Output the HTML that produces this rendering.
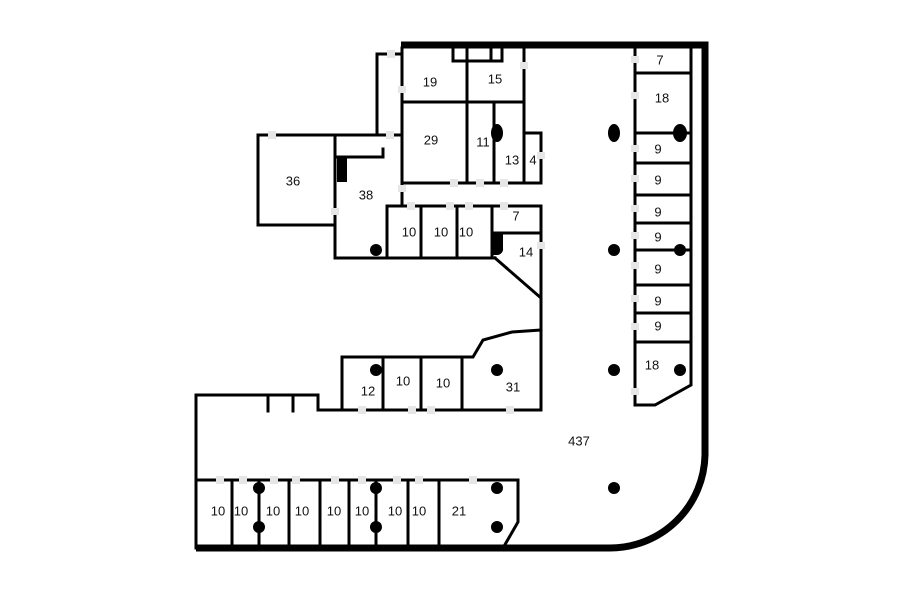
<!DOCTYPE html>
<html><head><meta charset="utf-8"><style>html,body{margin:0;background:#fff}svg{display:block}text{font-family:"Liberation Sans",sans-serif;font-size:13px;fill:#111;text-anchor:middle;dominant-baseline:middle}</style></head>
<body>
<svg width="900" height="604" viewBox="0 0 900 604" xmlns="http://www.w3.org/2000/svg">
<g fill="none" stroke="#000" stroke-width="3" stroke-linecap="square">
<path d="M401 45 H705 V455 A95 95 0 0 1 610 548 H196" stroke-width="7" stroke-linecap="butt"/>
<path d="M635 48 V405 H655 L691 385 V48"/>
<path d="M635 73H691 M635 133H691 M635 163H691 M635 195H691 M635 223H691 M635 250H691 M635 285H691 M635 313H691 M635 342H691"/>
<path d="M402 48 V205"/>
<path d="M402 54 H377 V135 H258 V225 H335 M335 135 V258 H495 M377 135 H402"/>
<path d="M338 157 H383 V149"/>
<path d="M402 102 H524 M467 48 V183 M494 102 V183 M524 48 V183 M524 133 H541 V183 H402"/>
<path d="M453 48 V61 H502 V48 M491 48 V61"/>
<path d="M387 258 V206 H541 V298 L495 258 M421 206 V258 M457 206 V258 M492 206 V258 M492 233 H541"/>
<path d="M541 298 V410 H318 V395 H196 V548 M268 395 V411 M293 395 V411"/>
<path d="M342 410 V357 H473 L483 340 L512 332 L541 330 M383 357 V410 M421 357 V410 M462 357 V410"/>
<path d="M196 480 H518 V522 L503 548 M232 480 V548 M259 480 V548 M289 480 V548 M320 480 V548 M349 480 V548 M376 480 V548 M408 480 V548 M439 480 V548"/>
</g>
<g fill="#e6e6e6">
<rect x="631" y="56" width="8" height="7"/><rect x="631" y="92" width="8" height="7"/><rect x="631" y="145" width="8" height="7"/><rect x="631" y="175" width="8" height="7"/><rect x="631" y="205" width="8" height="7"/><rect x="631" y="232" width="8" height="7"/><rect x="631" y="262" width="8" height="7"/><rect x="631" y="295" width="8" height="7"/><rect x="631" y="323" width="8" height="7"/><rect x="631" y="388" width="8" height="7"/>
<rect x="398" y="86" width="8" height="7"/><rect x="398" y="185" width="8" height="7"/><rect x="520" y="62" width="8" height="7"/><rect x="537" y="152" width="8" height="7"/><rect x="537" y="242" width="8" height="7"/><rect x="331" y="208" width="8" height="7"/>
<rect x="387" y="50" width="8" height="8"/><rect x="268" y="131" width="8" height="8"/><rect x="386" y="131" width="8" height="8"/>
<rect x="450" y="179" width="8" height="8"/><rect x="476" y="179" width="8" height="8"/><rect x="500" y="179" width="8" height="8"/>
<rect x="407" y="202" width="8" height="8"/><rect x="446" y="202" width="8" height="8"/><rect x="465" y="202" width="8" height="8"/><rect x="500" y="202" width="8" height="8"/>
<rect x="358" y="406" width="8" height="8"/><rect x="408" y="406" width="8" height="8"/><rect x="427" y="406" width="8" height="8"/><rect x="506" y="406" width="8" height="8"/>
<rect x="216" y="476" width="8" height="8"/><rect x="239" y="476" width="8" height="8"/><rect x="270" y="476" width="8" height="8"/><rect x="292" y="476" width="8" height="8"/><rect x="331" y="476" width="8" height="8"/><rect x="358" y="476" width="8" height="8"/><rect x="393" y="476" width="8" height="8"/><rect x="415" y="476" width="8" height="8"/><rect x="469" y="476" width="8" height="8"/>
</g>
<g fill="#000">
<rect x="337" y="157" width="10" height="25"/>
<path d="M491 233 H503 V248 A6 6 0 0 1 497 255 H491 Z"/>
<ellipse cx="614" cy="133" rx="6" ry="9"/><ellipse cx="680" cy="133" rx="7" ry="9"/><ellipse cx="497" cy="133" rx="6" ry="9"/>
<circle cx="614" cy="250" r="6"/><circle cx="680" cy="250" r="6"/><circle cx="614" cy="370" r="6"/><circle cx="680" cy="370" r="6"/><circle cx="614" cy="488" r="6"/>
<circle cx="376" cy="250" r="6"/><circle cx="376" cy="370" r="6"/><circle cx="497" cy="370" r="6"/>
<circle cx="259" cy="488" r="6"/><circle cx="259" cy="527" r="6"/><circle cx="376" cy="488" r="6"/><circle cx="376" cy="527" r="6"/><circle cx="497" cy="488" r="6"/><circle cx="497" cy="527" r="6"/>
</g>
<g>
<text x="660" y="61">7</text><text x="662" y="99">18</text><text x="658" y="150">9</text><text x="658" y="181">9</text><text x="658" y="213">9</text><text x="658" y="238">9</text><text x="658" y="270">9</text><text x="658" y="302">9</text><text x="658" y="327">9</text><text x="652" y="366">18</text>
<text x="430" y="83">19</text><text x="495" y="80">15</text><text x="431" y="141">29</text><text x="483" y="143">11</text><text x="512" y="161">13</text><text x="533" y="161">4</text>
<text x="293" y="182">36</text><text x="366" y="196">38</text>
<text x="409" y="233">10</text><text x="441" y="233">10</text><text x="466" y="233">10</text><text x="516" y="217">7</text><text x="526" y="253">14</text>
<text x="368" y="392">12</text><text x="403" y="382">10</text><text x="443" y="384">10</text><text x="513" y="388">31</text>
<text x="579" y="442">437</text>
<text x="218" y="512">10</text><text x="241" y="512">10</text><text x="273" y="512">10</text><text x="302" y="512">10</text><text x="334" y="512">10</text><text x="362" y="512">10</text><text x="395" y="512">10</text><text x="419" y="512">10</text><text x="459" y="512">21</text>
</g>
</svg>
</body></html>
